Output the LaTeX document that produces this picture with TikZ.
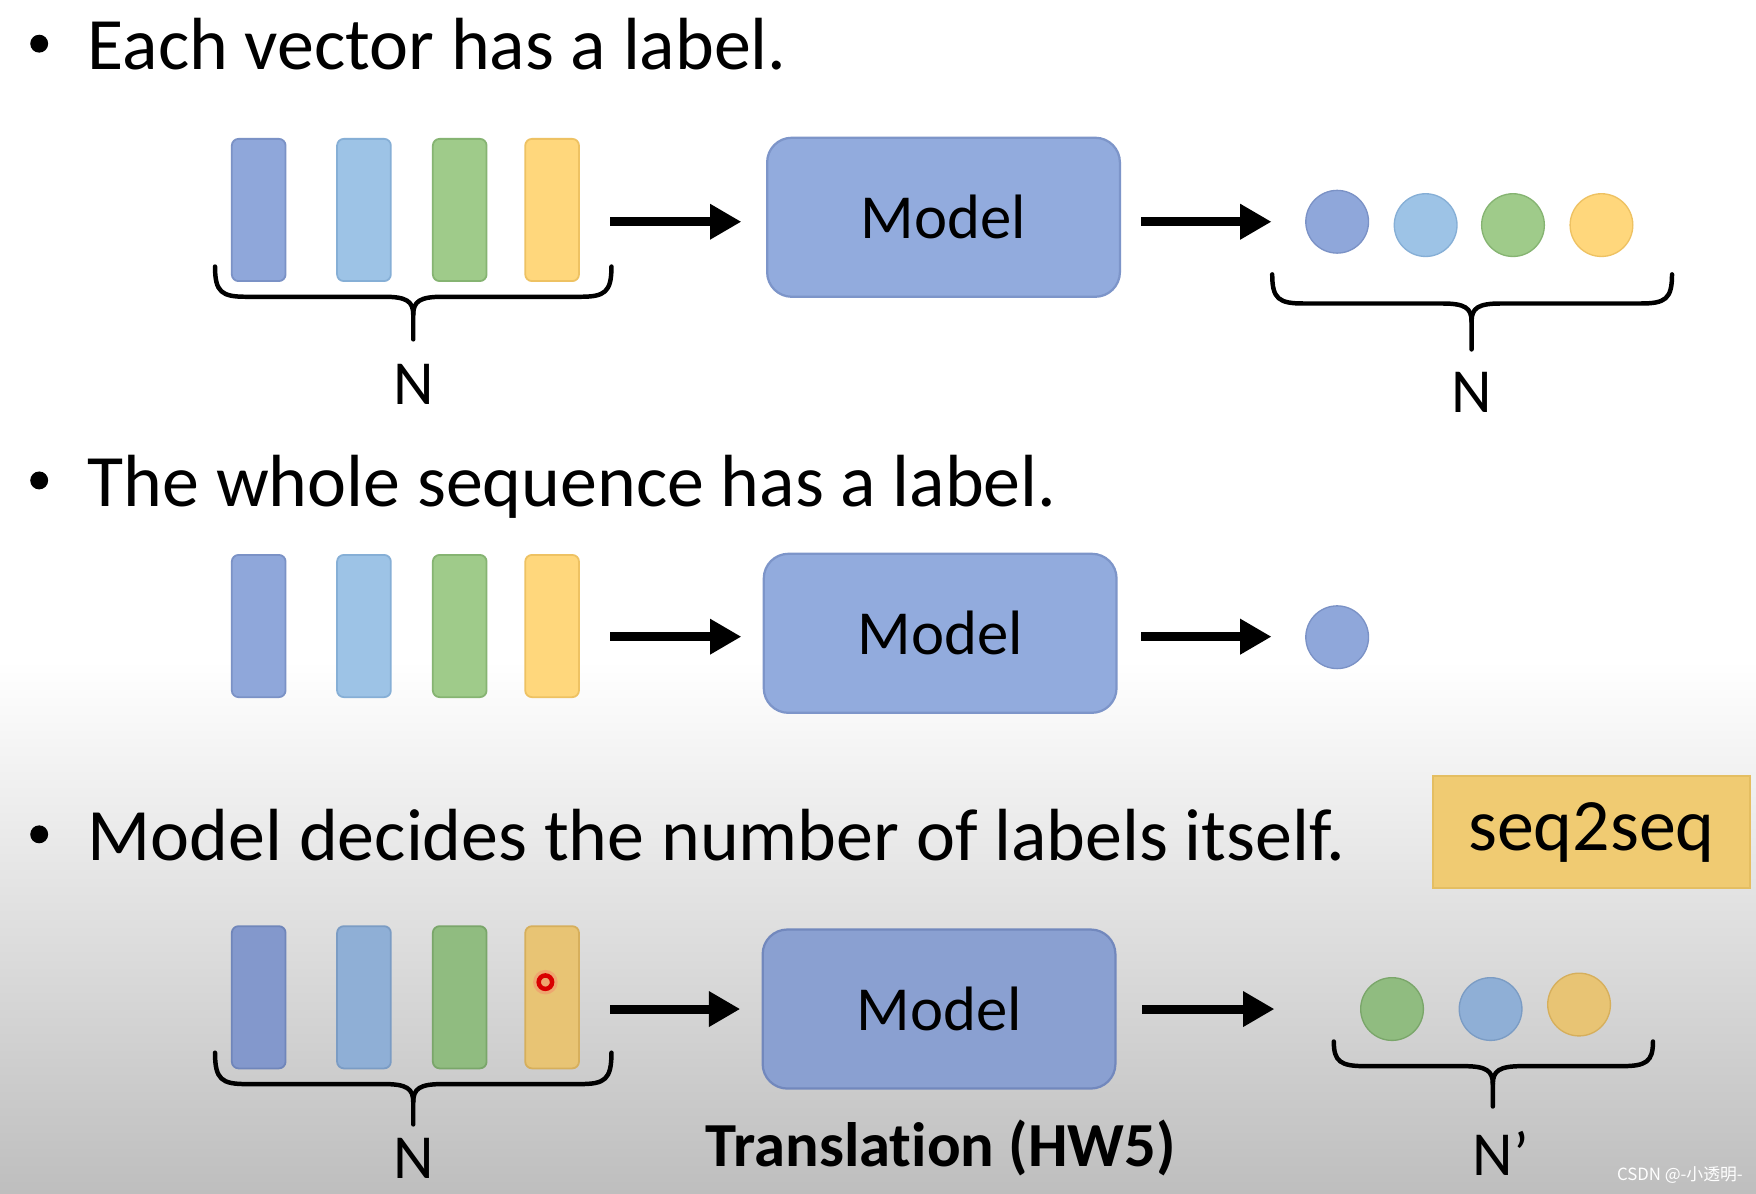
\documentclass[tikz,border=0pt]{standalone}
\usepackage{fontspec}
\setmainfont{Carlito}[Ligatures=NoCommon]
\newfontfamily\cjk{Noto Sans CJK SC}
\usetikzlibrary{arrows.meta,calc}
\definecolor{cBlue}{HTML}{8FA7DA}
\definecolor{cBlueD}{HTML}{7B92C6}
\definecolor{cLBlue}{HTML}{9DC3E6}
\definecolor{cLBlueD}{HTML}{86AFD6}
\definecolor{cGreen}{HTML}{9FCB8A}
\definecolor{cGreenD}{HTML}{86B472}
\definecolor{cYellow}{HTML}{FFD77C}
\definecolor{cYellowD}{HTML}{EEC263}
\definecolor{dBlue}{HTML}{8398CC}
\definecolor{dBlueD}{HTML}{7086BA}
\definecolor{dLBlue}{HTML}{8FAFD6}
\definecolor{dLBlueD}{HTML}{7B9CC4}
\definecolor{dGreen}{HTML}{90BC80}
\definecolor{dGreenD}{HTML}{7AA66A}
\definecolor{dYellow}{HTML}{E8C474}
\definecolor{dYellowD}{HTML}{D6AF5C}
\definecolor{modelFill}{HTML}{92ABDD}
\definecolor{modelDraw}{HTML}{7D95C9}
\definecolor{modelFillD}{HTML}{8AA0D1}
\definecolor{modelDrawD}{HTML}{7288BD}
\definecolor{seqFill}{HTML}{F0CB72}
\definecolor{seqDraw}{HTML}{E4BE62}
\definecolor{bgGray}{HTML}{BEBEBE}
\tikzset{
  bar/.style={rectangle, rounded corners=3pt, minimum width=24pt, minimum height=63.5pt, line width=0.8pt, inner sep=0pt},
  modelbox/.style={rectangle, rounded corners=11pt, minimum width=157.5pt, minimum height=71pt, fill=modelFill, draw=modelDraw, line width=1pt, inner sep=0pt, font=\fontsize{28}{32}\selectfont},
  dot/.style={circle, minimum size=28pt, inner sep=0pt, line width=0.6pt},
  arr/.style={line width=4pt, -{Triangle[length=14pt,width=15pt]}},
  bracestyle/.style={line width=2pt, line cap=round, line join=round},
  bullettext/.style={anchor=base west, inner sep=0pt, font=\fontsize{33}{40}\selectfont},
  bulletdot/.style={circle, fill=black, minimum size=8pt, inner sep=0pt},
  nlabel/.style={inner sep=0pt, font=\fontsize{28}{32}\selectfont},
}
\newcommand\mybrace[6]{%
  \draw[bracestyle] (#1,#4) .. controls (#1,#5-4) and (#1+6,#5) .. (#1+28,#5) -- (#3-26,#5) .. controls (#3-6,#5) and (#3,#5+4) .. (#3,#5+16) -- (#3,#6);
  \draw[bracestyle] (#2,#4) .. controls (#2,#5-4) and (#2-6,#5) .. (#2-28,#5) -- (#3+26,#5) .. controls (#3+6,#5) and (#3,#5+4) .. (#3,#5+16);
}
\begin{document}
\begin{tikzpicture}[x=0.5pt,y=-0.5pt]
\useasboundingbox (0,0) rectangle (1568,1066);
\fill[white] (0,0) rectangle (1568,1066);
\shade[top color=white, bottom color=bgGray] (0,590) rectangle (1568,1066);

% ---------- Row 1 ----------
\node[bulletdot] (p1) at (35,39) {};
\node[bullettext] (t1) at (78,62) {Each vector has a label.};
\node[bar, fill=cBlue, draw=cBlueD] (b11) at (231,187.5) {};
\node[bar, fill=cLBlue, draw=cLBlueD] (b12) at (325,187.5) {};
\node[bar, fill=cGreen, draw=cGreenD] (b13) at (410.5,187.5) {};
\node[bar, fill=cYellow, draw=cYellowD] (b14) at (493,187.5) {};
\node[modelbox] (m1) at (842.5,194) {Model};
\node[dot, fill=cBlue, draw=cBlueD] (c11) at (1194,198) {};
\node[dot, fill=cLBlue, draw=cLBlueD] (c12) at (1273,201) {};
\node[dot, fill=cGreen, draw=cGreenD] (c13) at (1351,201) {};
\node[dot, fill=cYellow, draw=cYellowD] (c14) at (1430,201) {};
\draw[arr] ($(b14.east |- m1.west)+(27,4)$) -- ($(m1.west)+(-22,4)$);
\draw[arr] ($(m1.east)+(18,4)$) -- ($(c11.west |- m1.east)+(-30,4)$);
\mybrace{192}{546}{369}{238}{265}{303}
\mybrace{1136}{1493}{1314}{245}{271}{312}
\node[nlabel] (n1) at (369,343) {N};
\node[nlabel] (n2) at (1314,350) {N};

% ---------- Row 2 ----------
\node[bulletdot] (p2) at (35,429) {};
\node[bullettext] (t2) at (78,452) {The whole sequence has a label.};
\node[bar, fill=cBlue, draw=cBlueD] (b21) at (231,559) {};
\node[bar, fill=cLBlue, draw=cLBlueD] (b22) at (325,559) {};
\node[bar, fill=cGreen, draw=cGreenD] (b23) at (410.5,559) {};
\node[bar, fill=cYellow, draw=cYellowD] (b24) at (493,559) {};
\node[modelbox] (m2) at (839.5,565.5) {Model};
\node[dot, fill=cBlue, draw=cBlueD] (c21) at (1194,569) {};
\draw[arr] ($(b24.east |- m2.west)+(27,3)$) -- ($(m2.west)+(-19,3)$);
\draw[arr] ($(m2.east)+(21,3)$) -- ($(c21.west |- m2.east)+(-30,3)$);

% ---------- Row 3 ----------
\node[bulletdot] (p3) at (35,745) {};
\node[bullettext] (t3) at (78,768) {Model decides the number of labels itself.};
\node[rectangle, fill=seqFill, draw=seqDraw, line width=0.6pt, minimum width=141.5pt, minimum height=50pt, inner sep=0pt, font=\fontsize{33}{40}\selectfont] (s2s) at (1421,743) {seq2seq};
\node[bar, fill=dBlue, draw=dBlueD] (b31) at (231,890.5) {};
\node[bar, fill=dLBlue, draw=dLBlueD] (b32) at (325,890.5) {};
\node[bar, fill=dGreen, draw=dGreenD] (b33) at (410.5,890.5) {};
\node[bar, fill=dYellow, draw=dYellowD] (b34) at (493,890.5) {};
\fill[red!60, opacity=0.3] (487,877) circle (11);
\draw[red!85!black, line width=2pt] (487,877) circle (6);
\node[modelbox, fill=modelFillD, draw=modelDrawD] (m3) at (838.5,901) {Model};
\node[dot, fill=dGreen, draw=dGreenD] (c31) at (1243,901) {};
\node[dot, fill=dLBlue, draw=dLBlueD] (c32) at (1331,901) {};
\node[dot, fill=dYellow, draw=dYellowD] (c33) at (1410,897) {};
\draw[arr] ($(b34.east |- m3.west)+(27,0)$) -- ($(m3.west)+(-19,0)$);
\draw[arr] ($(m3.east)+(23,0)$) -- ($(m3.east)+(141,0)$);
\mybrace{192}{546}{369}{940}{968}{1004}
\mybrace{1191}{1476}{1333}{930}{952}{988}
\node[nlabel] (n3) at (369,1034) {N};
\node[nlabel] (n4) at (1340,1030) {N’};
\node[inner sep=0pt, font=\bfseries\fontsize{28}{32}\selectfont] (tr) at (840,1025) {Translation (HW5)};
\node[inner sep=0pt, text=white, font=\cjk\fontsize{7.5}{9}\selectfont] (wm) at (1500,1049) {CSDN @-小透明-};
\end{tikzpicture}
\end{document}
